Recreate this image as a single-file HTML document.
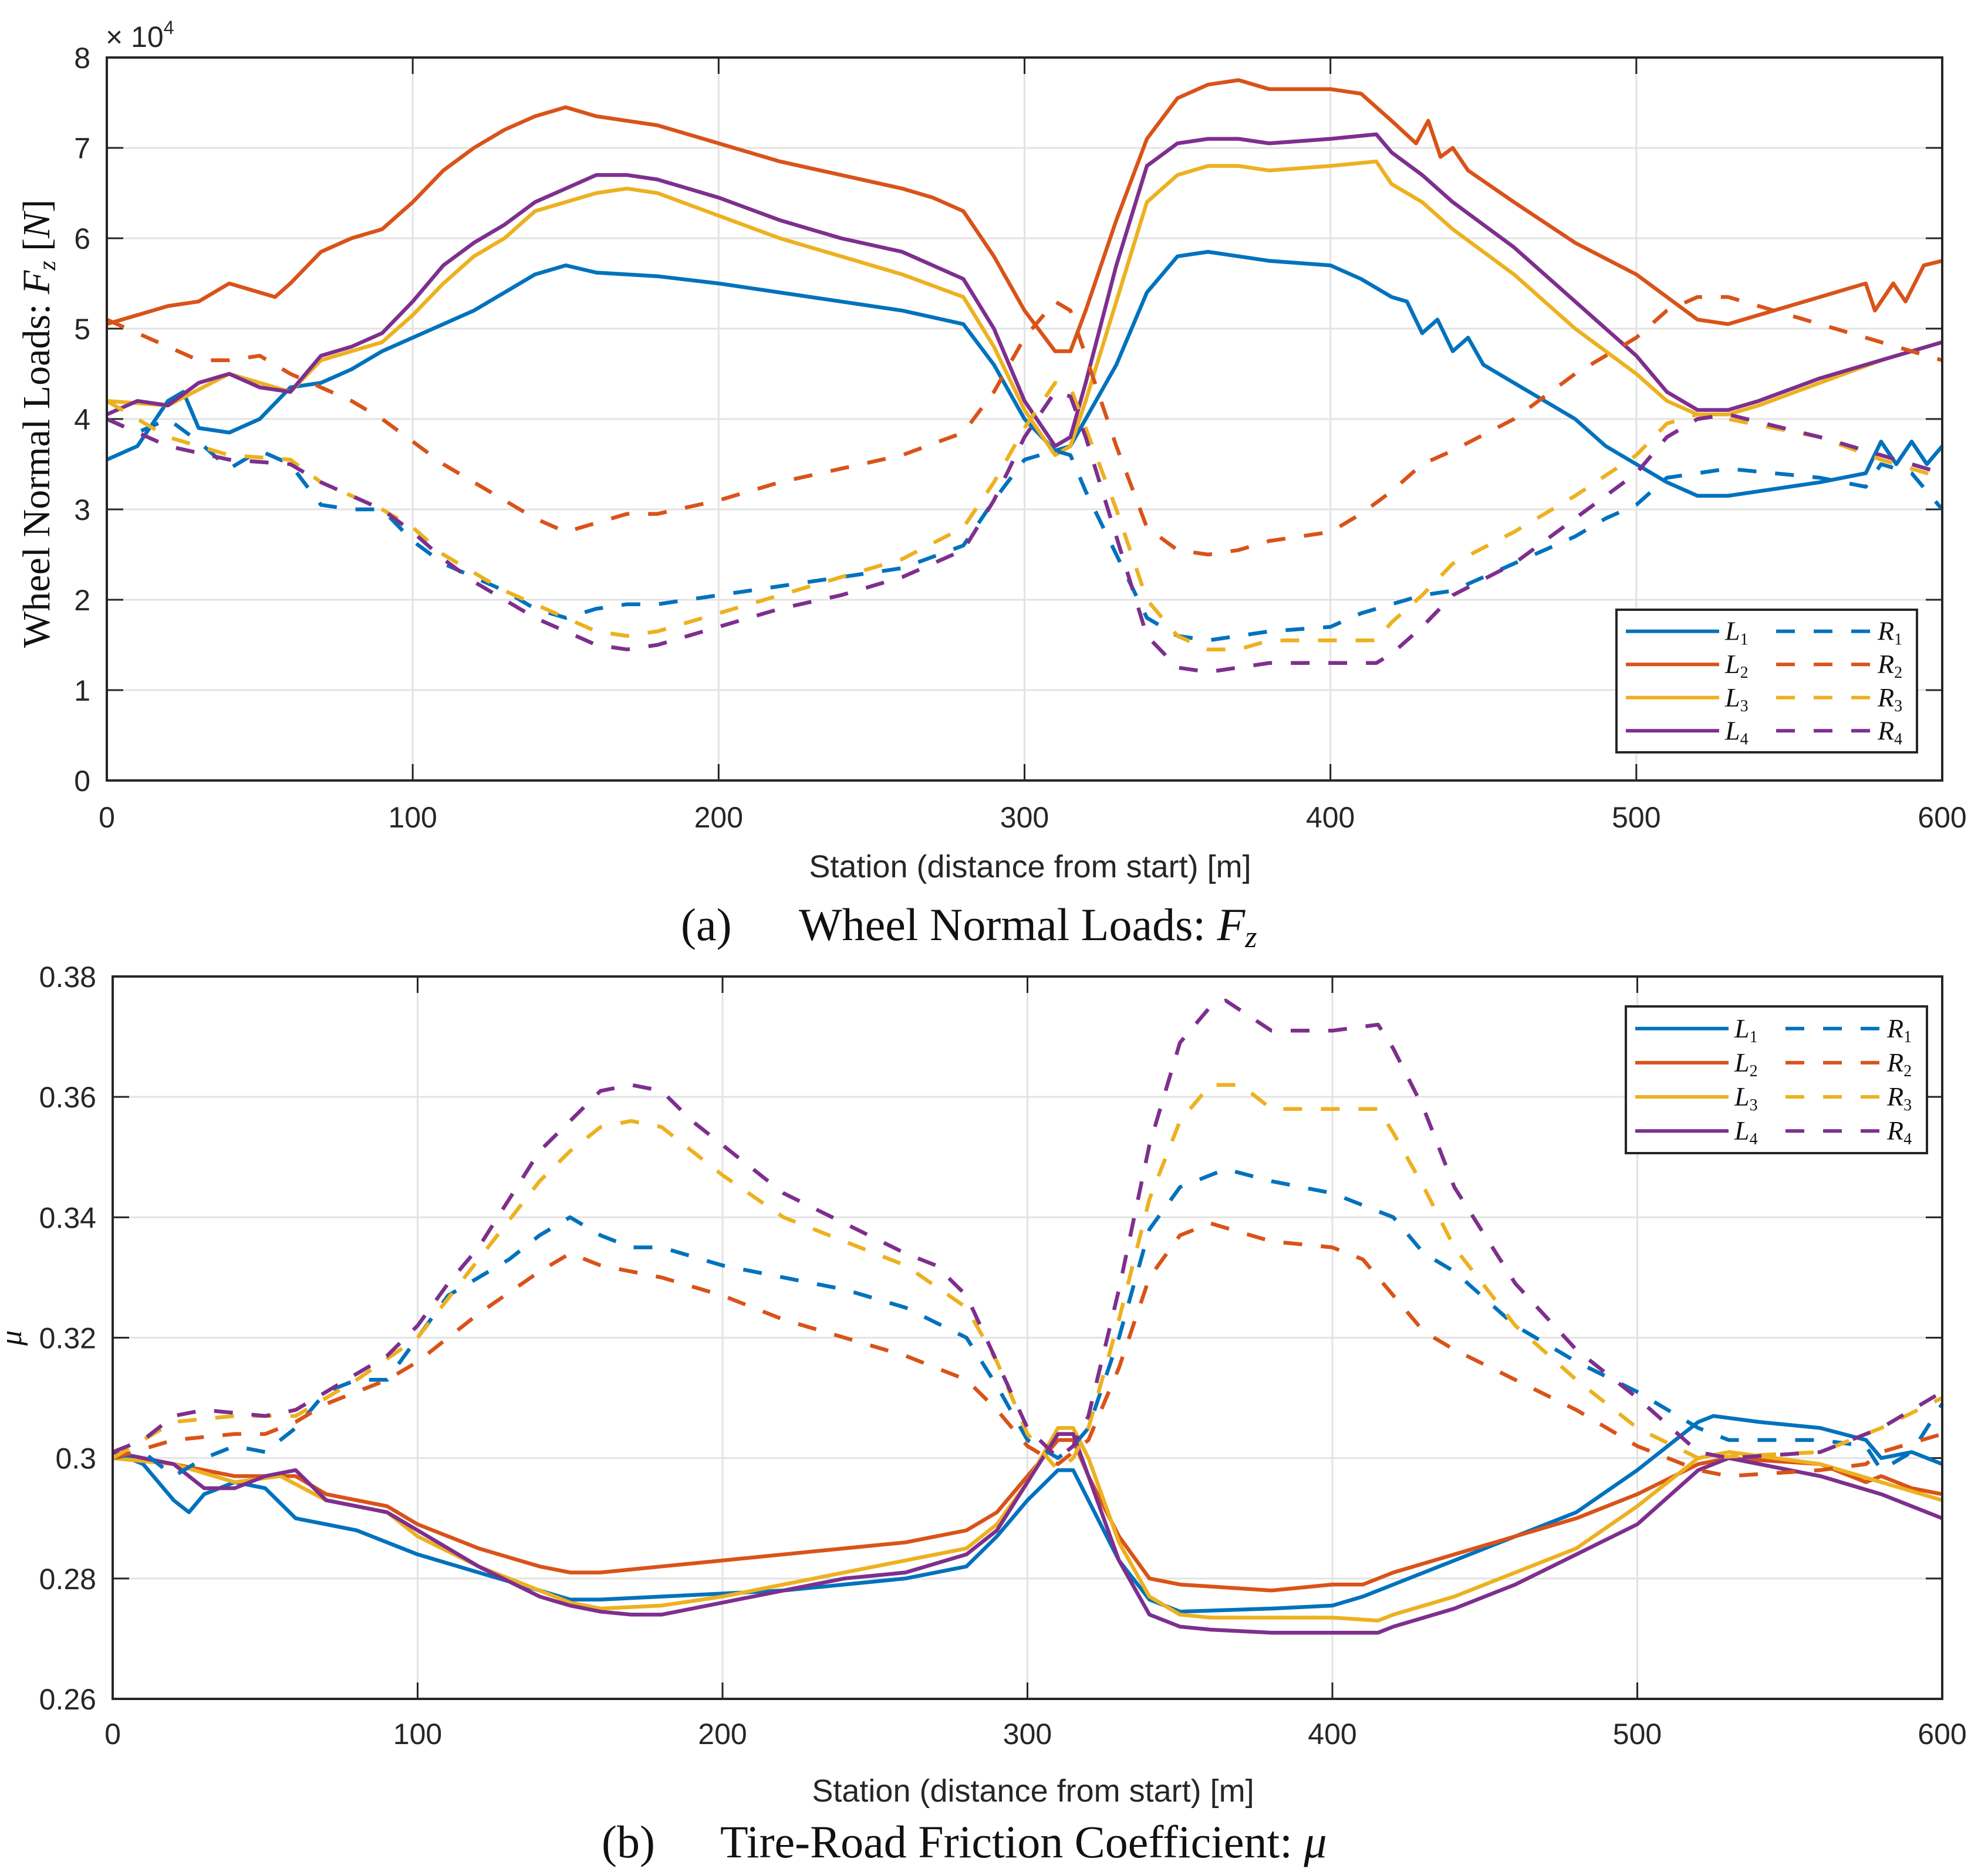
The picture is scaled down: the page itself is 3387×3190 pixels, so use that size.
<!DOCTYPE html>
<html><head><meta charset="utf-8"><style>
html,body{margin:0;padding:0;background:#fff;}
svg{display:block;}
.tk{font-family:"Liberation Sans",sans-serif;font-size:50px;fill:#262626;}
.lab{font-family:"Liberation Sans",sans-serif;font-size:54px;fill:#262626;}
.ser{font-family:"Liberation Serif",serif;fill:#111;}
</style></head><body>
<svg id="fig" width="3387" height="3190" viewBox="0 0 3387 3190" xmlns="http://www.w3.org/2000/svg">
<g id="chartA"></g>
<g id="chartB"></g>
<text class="ser" transform="translate(84,722) rotate(-90)" text-anchor="middle" font-size="66">Wheel Normal Loads:   <tspan font-style="italic">F</tspan><tspan font-style="italic" font-size="42" dy="10">z</tspan><tspan dy="-10"> [</tspan><tspan font-style="italic">N</tspan>]</text>
<text class="lab" x="1755" y="1495" text-anchor="middle">Station (distance from start) [m]</text>
<text class="ser" x="1160" y="1602" font-size="78">(a)</text>
<text class="ser" x="1361" y="1602" font-size="78">Wheel Normal Loads:   <tspan font-style="italic">F</tspan><tspan font-style="italic" font-size="52" dy="12">z</tspan></text>
<text class="ser" transform="translate(36,2280) rotate(-90)" text-anchor="middle" font-size="52" font-style="italic">μ</text>
<text class="lab" x="1760" y="3070" text-anchor="middle">Station (distance from start) [m]</text>
<text class="ser" x="1025" y="3165" font-size="78">(b)</text>
<text class="ser" x="1227" y="3165" font-size="78">Tire-Road Friction Coefficient:   <tspan font-style="italic">μ</tspan></text>
</svg>
<script>
// ---- shared data ----
const xTicks = [0,100,200,300,400,500,600];
const seriesNames = ["L1","L2","L3","L4","R1","R2","R3","R4"];
const seriesColors = ["#0072BD","#D95319","#EDB120","#7E2F8E","#0072BD","#D95319","#EDB120","#7E2F8E"];
// ---- chart A data (units of 1e4 N) ----
const aYTicks = [0,1,2,3,4,5,6,7,8];
const aL1 = [[0,3.55],[10,3.7],[20,4.2],[25,4.3],[30,3.9],[40,3.85],[50,4.0],[60,4.35],[70,4.4],[80,4.55],[90,4.75],[100,4.9],[110,5.05],[120,5.2],[130,5.4],[140,5.6],[150,5.7],[160,5.62],[180,5.58],[200,5.5],[220,5.4],[240,5.3],[260,5.2],[280,5.05],[290,4.6],[300,4.0],[310,3.65],[315,3.7],[320,4.0],[330,4.6],[340,5.4],[350,5.8],[360,5.85],[370,5.8],[380,5.75],[400,5.7],[410,5.55],[420,5.35],[425,5.3],[430,4.95],[435,5.1],[440,4.75],[445,4.9],[450,4.6],[460,4.4],[480,4.0],[490,3.7],[500,3.5],[510,3.3],[520,3.15],[530,3.15],[540,3.2],[560,3.3],[575,3.4],[580,3.75],[585,3.5],[590,3.75],[595,3.5],[600,3.7]];
const aL2 = [[0,5.05],[10,5.15],[20,5.25],[30,5.3],[40,5.5],[50,5.4],[55,5.35],[60,5.5],[70,5.85],[80,6.0],[90,6.1],[100,6.4],[110,6.75],[120,7.0],[130,7.2],[140,7.35],[150,7.45],[160,7.35],[170,7.3],[180,7.25],[190,7.15],[200,7.05],[220,6.85],[240,6.7],[260,6.55],[270,6.45],[280,6.3],[290,5.8],[300,5.2],[310,4.75],[315,4.75],[320,5.2],[330,6.2],[340,7.1],[350,7.55],[360,7.7],[370,7.75],[380,7.65],[400,7.65],[410,7.6],[420,7.3],[428,7.05],[432,7.3],[436,6.9],[440,7.0],[445,6.75],[460,6.4],[480,5.95],[500,5.6],[520,5.1],[530,5.05],[540,5.15],[560,5.35],[575,5.5],[578,5.2],[584,5.5],[588,5.3],[594,5.7],[600,5.75]];
const aL3 = [[0,4.2],[20,4.15],[40,4.5],[60,4.3],[70,4.65],[80,4.75],[90,4.85],[100,5.15],[110,5.5],[120,5.8],[130,6.0],[140,6.3],[150,6.4],[160,6.5],[170,6.55],[180,6.5],[200,6.25],[220,6.0],[240,5.8],[260,5.6],[280,5.35],[290,4.8],[300,4.1],[310,3.6],[315,3.7],[320,4.2],[330,5.3],[340,6.4],[350,6.7],[360,6.8],[370,6.8],[380,6.75],[400,6.8],[415,6.85],[420,6.6],[430,6.4],[440,6.1],[460,5.6],[480,5.0],[500,4.5],[510,4.2],[520,4.05],[530,4.05],[540,4.15],[560,4.4],[580,4.65],[600,4.85]];
const aL4 = [[0,4.05],[10,4.2],[20,4.15],[30,4.4],[40,4.5],[50,4.35],[60,4.3],[70,4.7],[80,4.8],[90,4.95],[100,5.3],[110,5.7],[120,5.95],[130,6.15],[140,6.4],[150,6.55],[160,6.7],[170,6.7],[180,6.65],[200,6.45],[220,6.2],[240,6.0],[260,5.85],[280,5.55],[290,5.0],[300,4.2],[310,3.7],[315,3.8],[320,4.4],[330,5.7],[340,6.8],[350,7.05],[360,7.1],[370,7.1],[380,7.05],[400,7.1],[415,7.15],[420,6.95],[430,6.7],[440,6.4],[460,5.9],[480,5.3],[500,4.7],[510,4.3],[520,4.1],[530,4.1],[540,4.2],[560,4.45],[580,4.65],[600,4.85]];
const aR1 = [[0,4.0],[10,3.85],[20,4.0],[30,3.75],[40,3.45],[50,3.65],[60,3.5],[70,3.05],[80,3.0],[90,3.0],[100,2.65],[110,2.4],[120,2.25],[130,2.1],[140,1.9],[150,1.8],[160,1.9],[170,1.95],[180,1.95],[200,2.05],[220,2.15],[240,2.25],[260,2.35],[280,2.6],[290,3.1],[300,3.55],[310,3.65],[315,3.6],[320,3.2],[330,2.5],[340,1.8],[350,1.6],[360,1.55],[370,1.6],[380,1.65],[400,1.7],[410,1.85],[420,1.95],[430,2.05],[440,2.1],[460,2.4],[480,2.7],[490,2.9],[500,3.05],[510,3.35],[520,3.4],[530,3.45],[560,3.35],[575,3.25],[580,3.5],[590,3.4],[600,3.0]];
const aR2 = [[0,5.1],[10,4.95],[20,4.8],[30,4.65],[40,4.65],[50,4.7],[60,4.5],[70,4.35],[80,4.2],[90,4.0],[100,3.75],[110,3.5],[120,3.3],[130,3.1],[140,2.9],[150,2.75],[160,2.85],[170,2.95],[180,2.95],[200,3.1],[220,3.3],[240,3.45],[260,3.6],[280,3.85],[290,4.3],[300,4.9],[310,5.3],[315,5.2],[320,4.7],[330,3.7],[340,2.8],[350,2.55],[360,2.5],[370,2.55],[380,2.65],[400,2.75],[410,2.95],[420,3.2],[430,3.5],[440,3.65],[460,4.0],[480,4.5],[500,4.9],[510,5.2],[520,5.35],[530,5.35],[540,5.25],[560,5.05],[580,4.85],[590,4.75],[600,4.65]];
const aR3 = [[0,4.2],[10,4.0],[20,3.8],[40,3.6],[60,3.55],[70,3.3],[80,3.15],[90,3.0],[100,2.8],[110,2.5],[120,2.3],[130,2.1],[140,1.95],[150,1.8],[160,1.65],[170,1.6],[180,1.65],[200,1.85],[220,2.05],[240,2.25],[260,2.45],[280,2.8],[290,3.3],[300,3.9],[310,4.4],[315,4.35],[320,3.9],[330,3.0],[340,2.0],[350,1.6],[360,1.45],[370,1.45],[380,1.55],[400,1.55],[415,1.55],[420,1.75],[430,2.05],[440,2.4],[460,2.75],[480,3.15],[500,3.6],[510,3.95],[520,4.05],[530,4.0],[560,3.8],[580,3.55],[600,3.35]];
const aR4 = [[0,4.0],[10,3.85],[20,3.7],[40,3.55],[60,3.5],[70,3.3],[80,3.15],[90,3.0],[100,2.75],[110,2.45],[120,2.2],[130,2.0],[140,1.8],[150,1.65],[160,1.5],[170,1.45],[180,1.5],[200,1.7],[220,1.9],[240,2.05],[260,2.25],[280,2.55],[290,3.1],[300,3.8],[310,4.3],[315,4.25],[320,3.8],[330,2.7],[340,1.6],[350,1.25],[360,1.2],[370,1.25],[380,1.3],[400,1.3],[415,1.3],[420,1.4],[430,1.7],[440,2.05],[460,2.4],[480,2.9],[500,3.4],[510,3.8],[520,4.0],[530,4.05],[560,3.8],[580,3.6],[600,3.4]];
// ---- chart B data (mu) ----
const bYTicks = [0.26,0.28,0.30,0.32,0.34,0.36,0.38];
const bYTickLabels = ["0.26","0.28","0.3","0.32","0.34","0.36","0.38"];
const bL1 = [[0,0.301],[10,0.299],[20,0.293],[25,0.291],[30,0.294],[40,0.296],[50,0.295],[60,0.290],[70,0.289],[80,0.288],[90,0.286],[100,0.284],[120,0.281],[140,0.278],[150,0.2765],[160,0.2765],[180,0.277],[200,0.2775],[220,0.278],[240,0.279],[260,0.280],[280,0.282],[290,0.287],[300,0.293],[310,0.298],[315,0.298],[320,0.293],[330,0.283],[340,0.2765],[350,0.2745],[380,0.275],[400,0.2755],[410,0.277],[420,0.279],[430,0.281],[440,0.283],[460,0.287],[480,0.291],[500,0.298],[520,0.306],[525,0.307],[540,0.306],[560,0.305],[575,0.303],[580,0.300],[590,0.301],[600,0.299]];
const bL2 = [[0,0.300],[20,0.299],[40,0.297],[55,0.297],[60,0.297],[70,0.294],[90,0.292],[100,0.289],[120,0.285],[140,0.282],[150,0.281],[160,0.281],[180,0.282],[200,0.283],[220,0.284],[240,0.285],[260,0.286],[280,0.288],[290,0.291],[300,0.297],[310,0.303],[315,0.303],[320,0.297],[330,0.287],[340,0.280],[350,0.279],[380,0.278],[400,0.279],[410,0.279],[420,0.281],[440,0.284],[460,0.287],[480,0.290],[500,0.294],[520,0.299],[530,0.300],[560,0.299],[575,0.296],[580,0.297],[590,0.295],[600,0.294]];
const bL3 = [[0,0.300],[20,0.299],[40,0.296],[55,0.297],[70,0.293],[90,0.291],[100,0.287],[120,0.282],[140,0.278],[150,0.276],[160,0.275],[180,0.2755],[200,0.277],[220,0.279],[240,0.281],[260,0.283],[280,0.285],[290,0.289],[300,0.296],[310,0.305],[315,0.305],[320,0.300],[330,0.286],[340,0.277],[350,0.274],[360,0.2735],[380,0.2735],[400,0.2735],[415,0.273],[420,0.274],[440,0.277],[460,0.281],[480,0.285],[500,0.292],[520,0.300],[530,0.301],[560,0.299],[580,0.296],[600,0.293]];
const bL4 = [[0,0.301],[10,0.300],[20,0.299],[30,0.295],[40,0.295],[50,0.297],[60,0.298],[70,0.293],[90,0.291],[100,0.288],[120,0.282],[140,0.277],[150,0.2755],[160,0.2745],[170,0.274],[180,0.274],[200,0.276],[220,0.278],[240,0.280],[260,0.281],[280,0.284],[290,0.288],[300,0.296],[310,0.304],[315,0.304],[320,0.297],[330,0.283],[340,0.274],[350,0.272],[360,0.2715],[380,0.271],[400,0.271],[415,0.271],[420,0.272],[440,0.275],[460,0.279],[480,0.284],[500,0.289],[520,0.298],[530,0.300],[560,0.297],[580,0.294],[600,0.290]];
const bR1 = [[0,0.300],[10,0.301],[20,0.297],[30,0.300],[40,0.302],[50,0.301],[60,0.305],[70,0.311],[80,0.313],[90,0.313],[100,0.320],[110,0.327],[120,0.330],[130,0.333],[140,0.337],[150,0.340],[160,0.337],[170,0.335],[180,0.335],[200,0.332],[220,0.330],[240,0.328],[260,0.325],[280,0.320],[290,0.312],[300,0.303],[310,0.300],[315,0.302],[320,0.305],[330,0.320],[340,0.338],[350,0.345],[360,0.347],[365,0.348],[380,0.346],[400,0.344],[415,0.341],[420,0.340],[430,0.334],[440,0.331],[460,0.322],[480,0.316],[500,0.311],[520,0.305],[530,0.303],[560,0.303],[575,0.302],[580,0.298],[590,0.301],[600,0.309]];
const bR2 = [[0,0.300],[20,0.303],[40,0.304],[50,0.304],[60,0.306],[70,0.309],[80,0.311],[90,0.313],[100,0.316],[120,0.324],[140,0.331],[150,0.334],[160,0.332],[170,0.331],[180,0.330],[200,0.327],[220,0.323],[240,0.320],[260,0.317],[280,0.313],[290,0.308],[300,0.302],[310,0.299],[320,0.303],[330,0.315],[340,0.330],[350,0.337],[360,0.339],[380,0.336],[400,0.335],[410,0.333],[420,0.327],[430,0.321],[440,0.318],[460,0.313],[480,0.308],[500,0.302],[520,0.298],[530,0.297],[560,0.298],[575,0.299],[580,0.301],[600,0.304]];
const bR3 = [[0,0.300],[20,0.306],[40,0.307],[60,0.307],[80,0.313],[100,0.320],[120,0.333],[140,0.346],[150,0.351],[160,0.355],[170,0.356],[180,0.355],[200,0.347],[220,0.340],[240,0.336],[260,0.332],[280,0.325],[290,0.316],[300,0.304],[310,0.298],[315,0.300],[320,0.305],[330,0.323],[340,0.343],[350,0.356],[360,0.362],[370,0.362],[380,0.358],[400,0.358],[415,0.358],[420,0.354],[430,0.345],[440,0.335],[460,0.322],[480,0.313],[500,0.305],[520,0.300],[560,0.301],[580,0.305],[600,0.310]];
const bR4 = [[0,0.301],[10,0.303],[20,0.307],[30,0.308],[50,0.307],[60,0.308],[70,0.311],[80,0.314],[90,0.317],[100,0.322],[110,0.329],[120,0.335],[130,0.343],[140,0.351],[150,0.356],[160,0.361],[170,0.362],[180,0.361],[190,0.356],[200,0.352],[220,0.344],[240,0.339],[260,0.334],[270,0.332],[280,0.327],[290,0.316],[300,0.305],[310,0.300],[315,0.302],[320,0.307],[330,0.328],[340,0.352],[350,0.369],[360,0.375],[365,0.376],[380,0.371],[400,0.371],[415,0.372],[420,0.368],[430,0.358],[440,0.345],[460,0.329],[480,0.318],[500,0.310],[520,0.301],[530,0.300],[560,0.301],[580,0.305],[600,0.311]];

const NS = "http://www.w3.org/2000/svg";
function mk(tag, attrs, parent){const e=document.createElementNS(NS,tag);for(const k in attrs)e.setAttribute(k,attrs[k]);parent.appendChild(e);return e;}

function drawChart(g, box, yMin, yMax, yTicks, yLabels, series, legendBox, prefix, xTickY){
  const xs = v => box.x0 + (v-0)/(600-0)*(box.x1-box.x0);
  const ys = v => box.y1 - (v-yMin)/(yMax-yMin)*(box.y1-box.y0);
  mk("rect",{x:box.x0,y:box.y0,width:box.x1-box.x0,height:box.y1-box.y0,fill:"#fff"},g);
  xTicks.forEach(t=>{
    const l=mk("line",{x1:xs(t),x2:xs(t),y1:box.y0,y2:box.y1,stroke:"#e3e3e3","stroke-width":3},g);
    
    
    mk("line",{x1:xs(t),x2:xs(t),y1:box.y1,y2:box.y1-28,stroke:"#262626","stroke-width":3},g);
    mk("line",{x1:xs(t),x2:xs(t),y1:box.y0,y2:box.y0+28,stroke:"#262626","stroke-width":3},g);
    const tx=mk("text",{x:xs(t),y:xTickY,"text-anchor":"middle","class":"tk"},g);
    tx.textContent=t;
    
    
  });
  yTicks.forEach((t,i)=>{
    const l=mk("line",{x1:box.x0,x2:box.x1,y1:ys(t),y2:ys(t),stroke:"#e3e3e3","stroke-width":3},g);
    
    
    mk("line",{x1:box.x0,x2:box.x0+28,y1:ys(t),y2:ys(t),stroke:"#262626","stroke-width":3},g);
    mk("line",{x1:box.x1,x2:box.x1-28,y1:ys(t),y2:ys(t),stroke:"#262626","stroke-width":3},g);
    const tx=mk("text",{x:box.x0-28,y:ys(t)+18,"text-anchor":"end","class":"tk"},g);
    tx.textContent=yLabels[i];
    
    
  });
  series.forEach((s,i)=>{
    const d=s.map((p,j)=>(j?"L":"M")+xs(p[0]).toFixed(1)+","+ys(p[1]).toFixed(1)).join(" ");
    const attrs={d:d,fill:"none",stroke:seriesColors[i],"stroke-width":6.5,"stroke-linejoin":"round"};
    if(i>=4) attrs["stroke-dasharray"]="32,32";
    const p=mk("path",attrs,g);
    
    
  });
  const fr=mk("rect",{x:box.x0,y:box.y0,width:box.x1-box.x0,height:box.y1-box.y0,fill:"none",stroke:"#262626","stroke-width":4},g);
  
  
  const lg=mk("g",{},g);
  
  
  mk("rect",{x:legendBox.x,y:legendBox.y,width:legendBox.w,height:legendBox.h,fill:"#fff",stroke:"#262626","stroke-width":4},lg);
  const rowH=legendBox.h/4.3;
  for(let r=0;r<4;r++){
    const cy=legendBox.y+rowH*(r+0.65);
    mk("line",{x1:legendBox.x+16,x2:legendBox.x+175,y1:cy,y2:cy,stroke:seriesColors[r],"stroke-width":6},lg);
    const a=mk("text",{x:legendBox.x+185,y:cy+15,"class":"ser","font-size":"46","font-style":"italic"},lg);
    a.innerHTML="L<tspan font-size='28' dy='8' font-style='normal'>"+(r+1)+"</tspan>";
    
    
    mk("line",{x1:legendBox.x+272,x2:legendBox.x+435,y1:cy,y2:cy,stroke:seriesColors[r+4],"stroke-width":6,"stroke-dasharray":"32,32"},lg);
    const b=mk("text",{x:legendBox.x+445,y:cy+15,"class":"ser","font-size":"46","font-style":"italic"},lg);
    b.innerHTML="R<tspan font-size='28' dy='8' font-style='normal'>"+(r+1)+"</tspan>";
    
    
  }
}
const gA=document.getElementById("chartA");
drawChart(gA,{x0:182,x1:3309,y0:98,y1:1330},0,8,aYTicks,aYTicks.map(String),[aL1,aL2,aL3,aL4,aR1,aR2,aR3,aR4],{x:2754,y:1039,w:512,h:243},"a",1410);
const ex=mk("text",{x:180,y:80,"class":"tk","font-size":"46"},gA);
ex.innerHTML="× 10<tspan font-size='32' dy='-22'>4</tspan>";


const gB=document.getElementById("chartB");
drawChart(gB,{x0:192,x1:3309,y0:1664,y1:2895},0.26,0.38,bYTicks,bYTickLabels,[bL1,bL2,bL3,bL4,bR1,bR2,bR3,bR4],{x:2770,y:1715,w:513,h:250},"b",2972);
</script>
</body></html>
